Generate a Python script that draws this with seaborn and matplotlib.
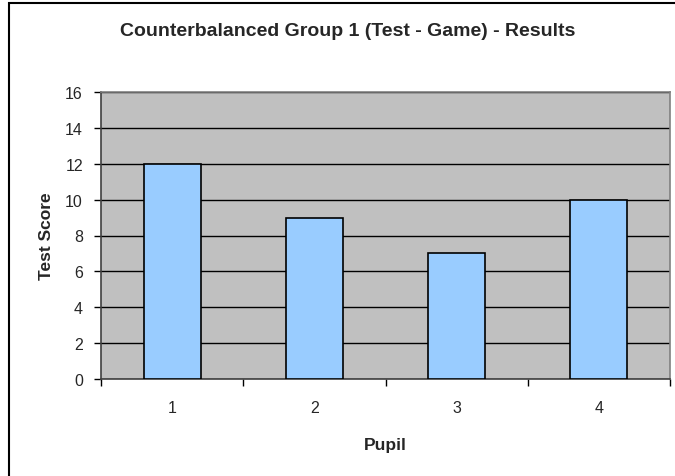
import matplotlib
matplotlib.use('Agg')
import matplotlib.pyplot as plt
from matplotlib.patches import Rectangle
import pandas as pd
import seaborn as sns

pupils = ['1', '2', '3', '4']
scores = [12, 9, 7, 10]
y_ticks = [0, 2, 4, 6, 8, 10, 12, 14, 16]

df = pd.DataFrame({'Pupil': pupils, 'Test Score': scores})

sns.set_style('white')
plt.rcParams['font.family'] = ['Liberation Sans', 'DejaVu Sans']

fig = plt.figure(figsize=(6.75, 4.77), dpi=100)
ax = fig.add_axes([101 / 675, 1 - 380 / 477, (670 - 101) / 675, (380 - 93) / 477])

# outer chart frame (only left/top edges visible in the crop)
fig.patches.append(Rectangle((9 / 675, -0.2), 2, 1.2 - 4 / 477, transform=fig.transFigure,
                             fill=False, edgecolor='black', linewidth=1.5))

ax.set_facecolor('#c0c0c0')
sns.barplot(x='Pupil', y='Test Score', data=df, color='#99ccff', width=0.4,
            edgecolor='black', linewidth=1.2, saturation=1, ax=ax, zorder=3)

ax.set_ylim(0, 16)
ax.set_xlim(-0.5, 3.5)
ax.set_yticks(y_ticks)
ax.yaxis.grid(True, color='black', linewidth=1)
ax.set_axisbelow(True)

# category labels at centres, tick marks at boundaries
ax.set_xticks(range(len(pupils)))
ax.set_xticklabels(pupils)
ax.set_xticks([i - 0.5 for i in range(len(pupils) + 1)], minor=True)
ax.tick_params(axis='x', which='major', length=0, pad=15, labelsize=11.5)
ax.tick_params(axis='x', which='minor', length=5, width=1, color='black', direction='out')
ax.tick_params(axis='y', length=5, width=1, color='black', direction='out', pad=8, labelsize=11.5)
ax.tick_params(left=True, bottom=True, which='both')

for side in ['top', 'right']:
    ax.spines[side].set_color('#808080')
    ax.spines[side].set_linewidth(1.2)
for side in ['left', 'bottom']:
    ax.spines[side].set_color('#404040')
    ax.spines[side].set_linewidth(1.2)

ax.set_xlabel('Pupil', fontsize=12.5, fontweight='bold', labelpad=16)
ax.set_ylabel('Test Score', fontsize=12.5, fontweight='bold', labelpad=8)
fig.text(348 / 675, 1 - 31 / 477, 'Counterbalanced Group 1 (Test - Game) - Results',
         ha='center', va='center', fontsize=14, fontweight='bold')

fig.savefig('out.png', dpi=100)
